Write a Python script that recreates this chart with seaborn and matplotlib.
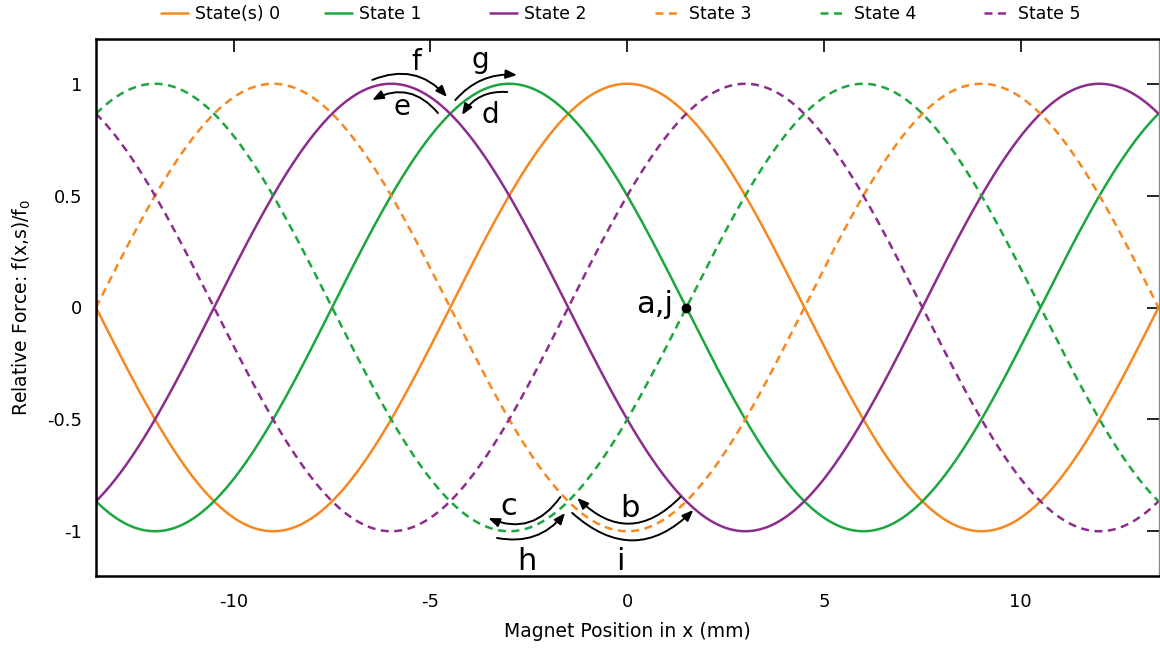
import numpy as np
import pandas as pd
import matplotlib
matplotlib.use("Agg")
import matplotlib.pyplot as plt
import seaborn as sns

# Force profile of each coil state: a cosine of fixed period, shifted per state
state_labels = ["State(s) 0", "State 1", "State 2", "State 3", "State 4", "State 5"]
peak_positions = [0.0, -3.0, -6.0, -9.0, -12.0, -15.0]   # mm, location of a maximum
period_mm = 18.0
amplitude = 1.0
state_colors = ["#f7871f", "#1ba63e", "#8c2c8c", "#f7871f", "#1ba63e", "#8c2c8c"]
state_dashed = [False, False, False, True, True, True]

x_ticks = [-10, -5, 0, 5, 10]
y_ticks = [-1, -0.5, 0, 0.5, 1]
y_ticklabels = ["-1", "-0.5", "0", "0.5", "1"]

# Operating point and the state transitions marked along the curves
point_x, point_y, point_label = 1.5, 0.0, "a,j"
transitions = [
    # label, text (x, y), size, arrow start, arrow end, curvature
    ("f", (-5.36, 1.06), 20, (-6.48, 1.017), (-4.58, 0.941), -0.35),
    ("e", (-5.72, 0.86), 20, (-4.81, 0.869), (-6.48, 0.927), 0.40),
    ("g", (-3.74, 1.07), 20, (-4.37, 0.927), (-2.80, 1.039), -0.25),
    ("d", (-3.48, 0.825), 20, (-3.05, 0.963), (-4.20, 0.860), 0.30),
    ("c", (-3.00, -0.927), 22, (-1.70, -0.847), (-3.53, -0.941), -0.40),
    ("h", (-2.54, -1.173), 22, (-3.31, -1.030), (-1.58, -0.918), 0.30),
    ("b", (0.08, -0.936), 22, (1.35, -0.847), (-1.27, -0.851), -0.50),
    ("i", (-0.18, -1.173), 22, (-1.40, -0.918), (1.68, -0.905), 0.47),
]

x_min, x_max = -13.5, 13.5
y_min, y_max = -1.2, 1.2

x = np.linspace(x_min, x_max, 1081)
frames = []
for label, x0 in zip(state_labels, peak_positions):
    frames.append(pd.DataFrame({
        "x": x,
        "force": amplitude * np.cos(2 * np.pi * (x - x0) / period_mm),
        "state": label,
    }))
df = pd.concat(frames, ignore_index=True)

sns.set_theme(style="white")
plt.rcParams["font.family"] = ["DejaVu Sans"]
plt.rcParams["axes.unicode_minus"] = False
plt.rcParams["text.color"] = "black"
plt.rcParams["axes.labelcolor"] = "black"

fig = plt.figure(figsize=(11.6, 6.52), dpi=100)
ax = fig.add_axes([96 / 1160, 1 - 576 / 652, (1158.5 - 96) / 1160, (576 - 39) / 652])

palette = dict(zip(state_labels, state_colors))
dashes = {lab: ((3.2, 2.2) if d else "") for lab, d in zip(state_labels, state_dashed)}
sns.lineplot(data=df, x="x", y="force", hue="state", style="state",
             hue_order=state_labels, style_order=state_labels,
             palette=palette, dashes=dashes, linewidth=1.8, ax=ax,
             estimator=None, sort=False)

ax.set_xlim(x_min, x_max)
ax.set_ylim(y_min, y_max)
ax.set_xticks(x_ticks)
ax.set_xticklabels([str(t) for t in x_ticks])
ax.set_yticks(y_ticks)
ax.set_yticklabels(y_ticklabels)
ax.tick_params(direction="in", length=9, width=1.2, colors="black",
               labelsize=13, top=True, right=True, pad=12)
ax.tick_params(axis="y", pad=10)
for side in ["left", "bottom", "top", "right"]:
    ax.spines[side].set_visible(True)
    ax.spines[side].set_color("black")
    ax.spines[side].set_linewidth(1.8)
ax.spines["right"].set_color("#888888")
ax.spines["right"].set_linewidth(1.0)
ax.set_xlabel("Magnet Position in x (mm)", fontsize=13.5, labelpad=8, color="black")
ax.set_ylabel("Relative Force: f(x,s)/f$_0$", fontsize=13.5, labelpad=10, color="black")

# Legend as a single row across the top
handles, labels = ax.get_legend_handles_labels()
ax.get_legend().remove()
legend_x = [161, 325, 490, 655, 820, 984]
for h, lab, px in zip(handles, labels, legend_x):
    h.set_linewidth(1.8)
    leg = fig.legend([h], [lab], loc="center left", bbox_to_anchor=(px / 1160, 1 - 14 / 652),
                     frameon=False, fontsize=12.5, handlelength=1.55, handletextpad=0.4,
                     borderpad=0, borderaxespad=0)
    for t in leg.get_texts():
        t.set_color("black")

# Operating point
ax.plot([point_x], [point_y], "o", color="black", markersize=6, zorder=5)
ax.text(0.69, -0.025, point_label, fontsize=22, ha="center", va="baseline", color="black")

# Transition arrows and their labels
for lab, (tx, ty), size, start, end, rad in transitions:
    ax.annotate("", xy=end, xytext=start,
                arrowprops=dict(arrowstyle="-|>,head_length=0.55,head_width=0.22",
                                color="black", lw=1.4, shrinkA=0, shrinkB=0,
                                connectionstyle=f"arc3,rad={rad}"),
                zorder=6)
    ax.text(tx, ty, lab, fontsize=size, ha="center", va="baseline", color="black")

fig.savefig("out.png", dpi=100)
